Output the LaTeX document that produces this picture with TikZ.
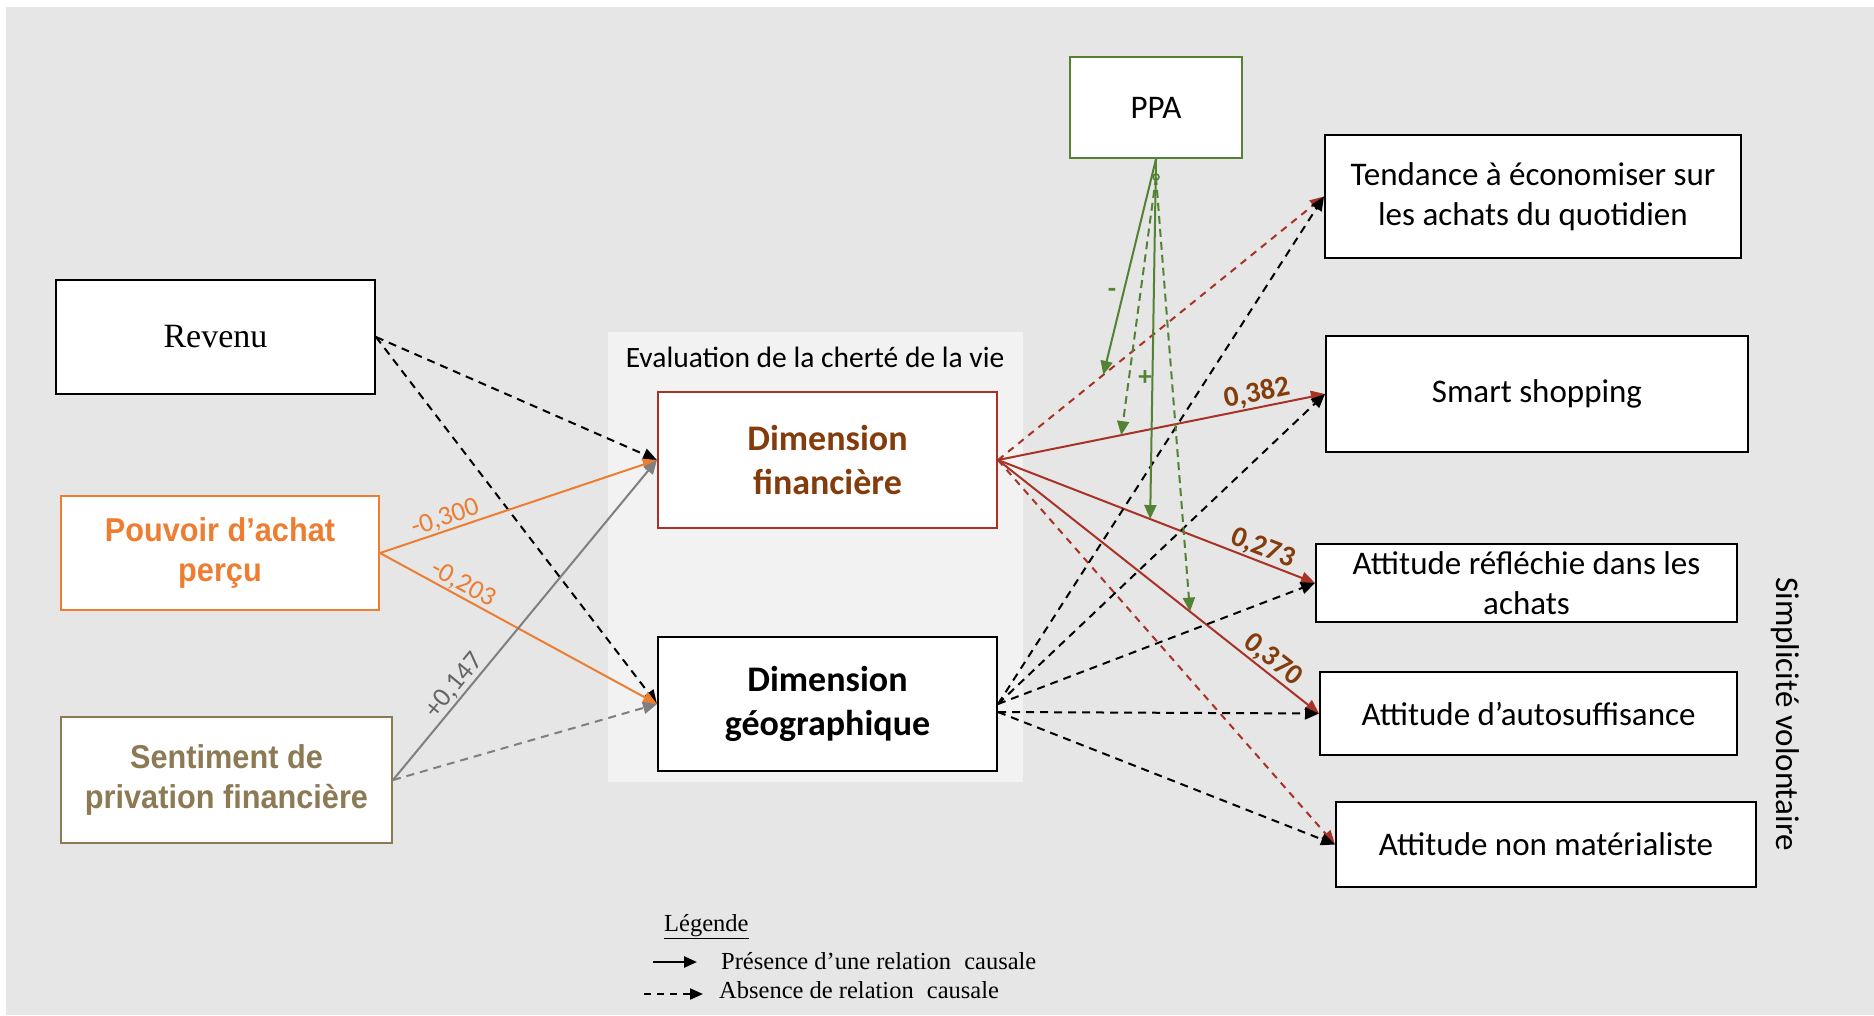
\documentclass[tikz,border=0pt]{standalone}
\usepackage{fontspec}
\setmainfont{Carlito}
\newfontfamily\timesf{Liberation Serif}
\newfontfamily\narrowf[FakeStretch=0.93]{Liberation Sans}
\usetikzlibrary{arrows.meta}
\definecolor{bggrey}{RGB}{230,230,230}
\definecolor{panelgrey}{RGB}{242,242,242}
\definecolor{orangec}{RGB}{237,125,49}
\definecolor{redc}{RGB}{168,50,38}
\definecolor{brownc}{RGB}{132,60,12}
\definecolor{greenc}{RGB}{84,130,53}
\definecolor{greyc}{RGB}{127,127,127}
\definecolor{greytxt}{RGB}{100,100,100}
\definecolor{sentc}{RGB}{139,122,84}
\begin{document}
\begin{tikzpicture}[x=1pt,y=-1pt,
  box/.style={draw, fill=white, line width=2pt, inner sep=0pt, align=center,
    font=\fontsize{33}{40}\selectfont},
  conn/.style={-{Triangle[length=14pt,width=12pt]}, line width=2pt},
  dsh/.style={dash pattern=on 8pt off 6pt},
  lbl/.style={inner sep=1pt, font=\fontsize{27}{30}\selectfont},
  blbl/.style={inner sep=1pt, font=\fontsize{29}{32}\selectfont\bfseries, text=brownc},
  legtxt/.style={anchor=west, inner sep=0pt, font=\timesf\fontsize{24.5}{28}\selectfont}]
\useasboundingbox (0,0) rectangle (1874,1015);
\fill[white] (0,0) rectangle (1874,1015);
\fill[bggrey] (6,7) rectangle (1874,1015);
\fill[panelgrey] (608,332) rectangle (1023,782);
\node[inner sep=0pt, font=\fontsize{29.5}{34}\selectfont] (title) at (815,357) {Evaluation de la cherté de la vie};

% left boxes
\node[box, minimum width=319pt, minimum height=114pt, font=\timesf\fontsize{34}{40}\selectfont] (Rev) at (215.5,337) {Revenu};
\node[box, draw=orangec, text=orangec, minimum width=318pt, minimum height=114pt, font=\narrowf\bfseries\fontsize{33}{40}\selectfont] (Pou) at (220,553) {Pouvoir d’achat\\perçu};
\node[box, draw=sentc, text=sentc, minimum width=331pt, minimum height=126pt, font=\narrowf\bfseries\fontsize{33}{40}\selectfont] (Sen) at (226.5,780) {Sentiment de\\privation financière};

% middle
\node[box, draw=redc, text=brownc, minimum width=339pt, minimum height=136pt, font=\fontsize{36}{44}\selectfont\bfseries] (Df) at (827.5,460) {Dimension\\financière};
\node[box, minimum width=339pt, minimum height=134pt, font=\fontsize{36}{44}\selectfont\bfseries] (Dg) at (827.5,704) {Dimension\\géographique};

% PPA
\node[box, draw=greenc, minimum width=172pt, minimum height=101pt] (PPA) at (1156,107.5) {PPA};

% right boxes
\node[box, minimum width=416pt, minimum height=123pt] (Ten) at (1533,196.5) {Tendance à économiser sur\\les achats du quotidien};
\node[box, minimum width=422pt, minimum height=116pt] (Sma) at (1537,394) {Smart shopping};
\node[box, minimum width=421pt, minimum height=78pt] (Ref) at (1526.5,583) {Attitude réfléchie dans les\\achats};
\node[box, minimum width=417pt, minimum height=83pt] (Aut) at (1528.5,713.5) {Attitude d’autosuffisance};
\node[box, minimum width=420pt, minimum height=85pt] (Nma) at (1546,844.5) {Attitude non matérialiste};
\node[rotate=-90, inner sep=0pt, font=\fontsize{33}{40}\selectfont] (SV) at (1785,714) {Simplicité volontaire};

% left connectors
\draw[conn, dsh] (Rev.east) -- (Df.west);
\draw[conn, dsh] (Rev.east) -- (Dg.west);
\draw[conn, orangec] (Pou.east) -- node[lbl, sloped, above, pos=0.25, text=orangec] {-0,300} (Df.west);
\draw[conn, orangec] (Pou.east) -- node[lbl, sloped, above, pos=0.28, text=orangec] {-0,203} (Dg.west);
\draw[conn, greyc] (Sen.east) -- node[lbl, sloped, above, pos=0.27, text=greytxt] {+0,147} (Df.west);
\draw[conn, greyc, dsh] (Sen.east) -- (Dg.west);

% right connectors from Df
\draw[conn, redc, dash pattern=on 7pt off 6pt] (Df.east) -- coordinate[pos=0.323] (m1) (Ten.west);
\draw[conn, redc] (Df.east) -- coordinate[pos=0.377] (m2) node[blbl, sloped, above, pos=0.8] {0,382} (Sma.west);
\draw[conn, redc] (Df.east) -- coordinate[pos=0.48] (m3) node[blbl, sloped, above, pos=0.82] {0,273} (Ref.west);
\draw[conn, redc] (Df.east) -- coordinate[pos=0.598] (m4) node[blbl, sloped, above, pos=0.83] {0,370} (Aut.west);
\draw[conn, redc, dash pattern=on 7pt off 6pt] (Df.east) -- (Nma.west);

% right connectors from Dg
\coordinate (dge2) at ([yshift=-8pt]Dg.east);
\draw[conn, dsh] (Dg.east) -- (Ten.west);
\draw[conn, dsh] (Dg.east) -- (Sma.west);
\draw[conn, dsh] (Dg.east) -- (Ref.west);
\draw[conn, dsh] (dge2) -- (Aut.west);
\draw[conn, dsh] (dge2) -- (Nma.west);

% PPA moderation
\coordinate (g0) at ([yshift=-18pt]PPA.south);
\draw[greenc, line width=1.5pt] (g0) circle (3pt);
\draw[conn, greenc] (PPA.south) -- (m1);
\draw[conn, greenc, dash pattern=on 8pt off 5pt] (g0) -- (m2);
\draw[conn, greenc] (PPA.south) -- (m3);
\draw[conn, greenc, dash pattern=on 8pt off 5pt] (g0) -- (m4);
\node[lbl, text=greenc, font=\fontsize{27}{30}\selectfont\bfseries] (gm) at (1112,293) {-};
\node[lbl, text=greenc, font=\fontsize{27}{30}\selectfont\bfseries] (gp) at (1145,378) {+};

% legend
\node[legtxt] (leg) at (664,927) {\underline{Légende}};
\coordinate (l1a) at (653,962);
\coordinate (l1b) at (697,962);
\coordinate (l2a) at (644,994);
\coordinate (l2b) at (703,994);
\draw[-{Triangle[length=13pt,width=11pt]}, line width=2.5pt] (l1a) -- (l1b);
\draw[-{Triangle[length=13pt,width=11pt]}, line width=2pt, dash pattern=on 7pt off 6pt] (l2a) -- (l2b);
\node[legtxt] (leg1) at (721,961) {Présence d’une relation\hspace{7pt} causale};
\node[legtxt] (leg2) at (719,990) {Absence de relation\hspace{7pt} causale};
\end{tikzpicture}
\end{document}
